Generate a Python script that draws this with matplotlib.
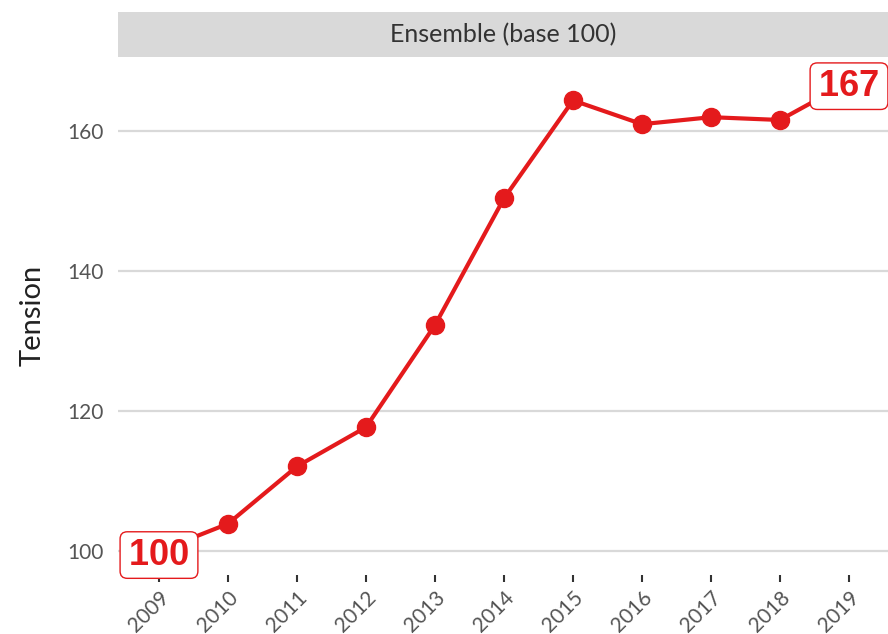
import matplotlib.pyplot as plt
from matplotlib.patches import Rectangle

years = [2009, 2010, 2011, 2012, 2013, 2014, 2015, 2016, 2017, 2018, 2019]
tension = [100, 103.9, 112.1, 117.7, 132.3, 150.4, 164.4, 161.0, 162.0, 161.6, 167]
y_ticks = [100, 120, 140, 160]
strip_title = "Ensemble (base 100)"
red = "#e41a1c"

plt.rcParams['font.family'] = ['Lato', 'DejaVu Sans']

fig = plt.figure(figsize=(8.88, 6.34), dpi=100)
ax = fig.add_axes([118 / 888, 1 - 574.5 / 634, 1 - 118 / 888, (574.5 - 57) / 634])

ax.plot(years, tension, color=red, lw=3, marker='o', ms=13, zorder=3,
        clip_on=False)

# boxed labels for first and last value (hair spaces widen the box)
for i in (0, -1):
    ax.text(years[i], tension[i], "\u200a" + f"{tension[i]:.0f}" + "\u200a",
            color=red, fontsize=26, fontweight='bold',
            family=['Liberation Sans', 'DejaVu Sans'],
            ha='center', va='center_baseline', zorder=5, clip_on=False,
            bbox=dict(boxstyle='round,pad=0.16,rounding_size=0.2',
                      fc='white', ec=red, lw=1))

ax.set_xlim(2008.406, 2019.565)
ax.set_ylim(96.65, 170.6)
ax.set_yticks(y_ticks)
ax.set_xticks(years)
ax.set_xticklabels([str(y) for y in years], rotation=45, ha='right',
                   rotation_mode='anchor', fontsize=15, color='#555555')
ax.tick_params(axis='y', length=0, labelsize=15, labelcolor='#555555', pad=10)
ax.tick_params(axis='x', length=5, width=1.5, color='#333333', pad=4)
ax.grid(axis='y', color='#d9d9d9', lw=1.6)
ax.set_axisbelow(True)
for s in ax.spines.values():
    s.set_visible(False)

ax.set_ylabel("Tension", fontsize=21, color='#222222', labelpad=16)

# facet strip
strip = Rectangle((118 / 888, 1 - 57 / 634), 1 - 118 / 888, 45 / 634,
                  transform=fig.transFigure, fc='#d9d9d9', ec='none')
fig.patches.append(strip)
fig.text((118 / 888 + 1) / 2, 1 - 34.5 / 634, strip_title, ha='center',
         va='center', fontsize=18, color='#333333')

fig.savefig("out.png", dpi=100)
